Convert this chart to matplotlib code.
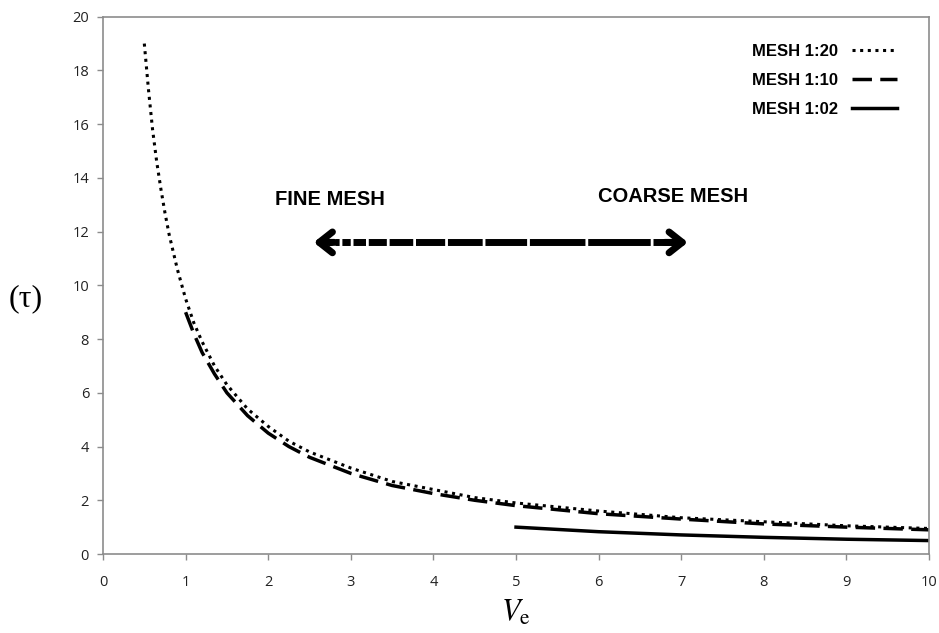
import matplotlib
matplotlib.use("Agg")
import matplotlib.pyplot as plt

plt.rcParams['lines.scale_dashes'] = False
plt.rcParams['mathtext.fontset'] = 'stix'

# values
x_20 = [0.5, 0.55, 0.6, 0.65, 0.7, 0.75, 0.8, 0.9, 1.0, 1.1, 1.2, 1.35, 1.5,
        1.75, 2.0, 2.25, 2.5, 3.0, 3.5, 4.0, 4.5, 5.0, 6.0, 7.0, 8.0, 9.0, 10.0]
y_20 = [19.0, 17.3, 15.8, 14.6, 13.6, 12.7, 11.9, 10.6, 9.5, 8.6, 7.9, 7.0, 6.3,
        5.4, 4.75, 4.2, 3.8, 3.2, 2.7, 2.4, 2.1, 1.9, 1.6, 1.35, 1.2, 1.05, 0.95]

x_10 = [1.0, 1.1, 1.2, 1.35, 1.5, 1.75, 2.0, 2.25, 2.5, 3.0, 3.5, 4.0, 4.5,
        5.0, 6.0, 7.0, 8.0, 9.0, 10.0]
y_10 = [9.0, 8.2, 7.5, 6.7, 6.0, 5.15, 4.5, 4.0, 3.6, 3.0, 2.55, 2.25, 2.0,
        1.8, 1.5, 1.3, 1.12, 1.0, 0.9]

x_02 = [5.0, 6.0, 7.0, 8.0, 9.0, 10.0]
y_02 = [1.0, 0.83, 0.71, 0.62, 0.55, 0.5]

labels = ['MESH 1:20', 'MESH 1:10', 'MESH 1:02']

fig = plt.figure(figsize=(9.39, 6.33), dpi=100)
ax = fig.add_axes([0.1097, 0.1248, 0.8797, 0.8488])

ax.plot(x_20, y_20, color='black', lw=2.2, linestyle=(0, (2.2, 3.3)), label=labels[0])
ax.plot(x_10, y_10, color='black', lw=2.5, linestyle=(0, (14, 6)), label=labels[1])
ax.plot(x_02, y_02, color='black', lw=2.5, label=labels[2])

ax.set_xlim(0, 10)
ax.set_ylim(0, 20)
ax.set_xticks(range(0, 11))
ax.set_yticks(range(0, 21, 2))
for s in ax.spines.values():
    s.set_color('#8c8c8c')
    s.set_linewidth(1.2)
ax.tick_params(direction='out', length=4, width=1, color='#8c8c8c',
               labelsize=10.5, labelcolor='#222222', pad=6)
for t in ax.get_xticklabels() + ax.get_yticklabels():
    t.set_fontfamily('Open Sans')
ax.tick_params(axis='x', pad=11)

ax.set_xlabel(r'$V_{\mathrm{e}}$', fontsize=22, labelpad=6)
ax.text(-0.093, 9.5, '(τ)', fontsize=23, family='Liberation Serif',
        transform=ax.get_yaxis_transform(), ha='center', va='center')

# arrow between fine and coarse mesh
ay = 11.6
ax.plot([2.72, 6.9], [ay, ay], color='black', lw=5,
        linestyle=(0, (3, 2, 3, 2, 6, 2, 9, 2, 13, 2, 17, 2, 21, 2, 25, 2,
                       30, 2, 40, 2, 45, 2, 80, 2)))
hp = dict(arrowstyle='->,head_length=0.95,head_width=0.75', lw=5, color='black',
          capstyle='round', joinstyle='round', shrinkA=0, shrinkB=0)
ax.annotate('', xy=(2.55, ay), xytext=(2.8, ay), arrowprops=hp)
ax.annotate('', xy=(7.08, ay), xytext=(6.8, ay), arrowprops=hp)

ax.text(2.75, 13.2, 'FINE MESH', fontsize=14.5, fontweight='bold',
        family='Liberation Sans', ha='center', va='center')
ax.text(6.9, 13.3, 'COARSE MESH', fontsize=14.5, fontweight='bold',
        family='Liberation Sans', ha='center', va='center')

leg = ax.legend(loc='upper right', bbox_to_anchor=(0.979, 0.978), frameon=False,
                markerfirst=False, handlelength=2.7, labelspacing=0.85,
                prop={'family': 'Liberation Sans', 'weight': 'bold', 'size': 12})

fig.savefig('out.png', dpi=100)
